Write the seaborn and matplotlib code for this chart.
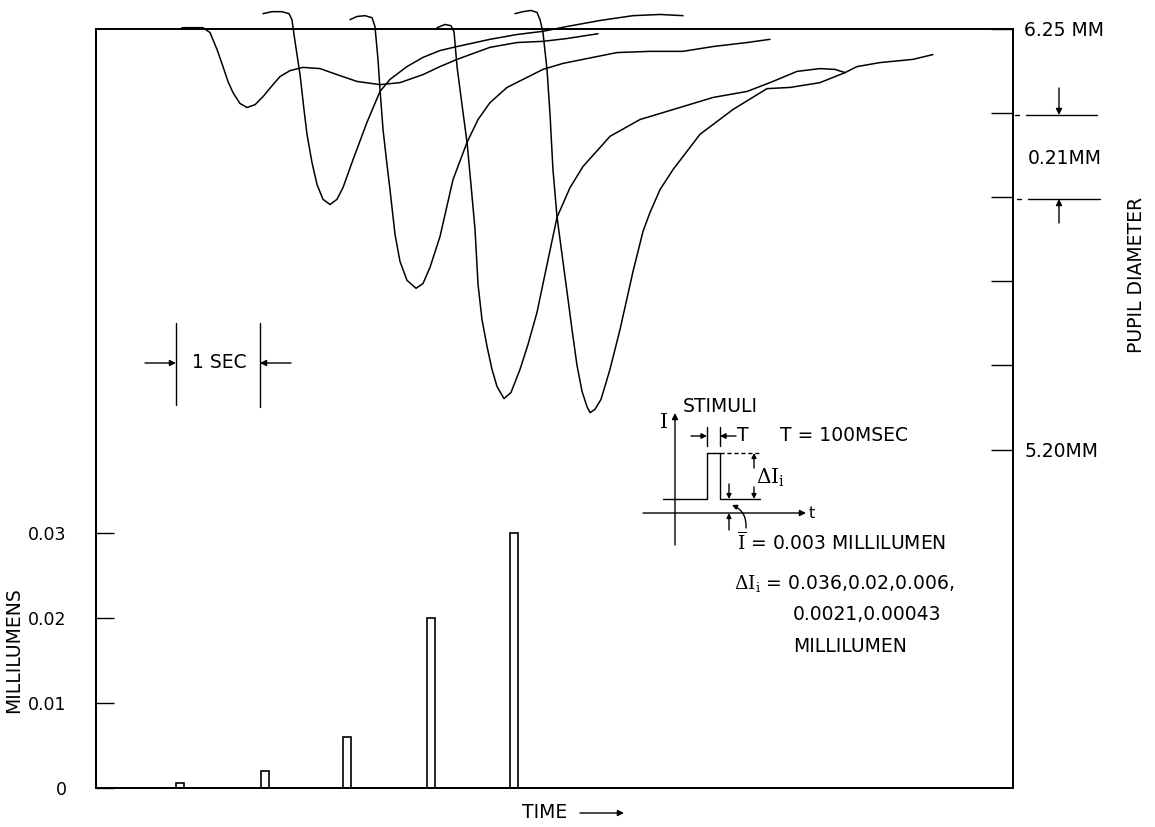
import numpy as np
import pandas as pd
import matplotlib
matplotlib.use("Agg")
import matplotlib.pyplot as plt
import seaborn as sns
from matplotlib.lines import Line2D
from matplotlib.patches import FancyArrowPatch

# ---------------- data ----------------
# stimulus increments (bars): time [s] and amplitude [millilumens]
stim_time = [1.00, 2.01, 2.99, 3.99, 4.98]
stim_amp = [0.0006, 0.002, 0.006, 0.020, 0.030]

# pupil responses: time [s], pupil diameter [mm]
resp_a_t = [1.024, 1.274, 1.357, 1.440, 1.512, 1.571, 1.631, 1.714, 1.798, 1.893, 1.988,
            2.095, 2.190, 2.310, 2.464, 2.667, 2.869, 3.107, 3.381, 3.619, 3.893, 4.095,
            4.298, 4.690, 5.012, 5.321, 5.607, 5.976]
resp_a_d = [6.252, 6.252, 6.240, 6.198, 6.155, 6.118, 6.090, 6.063, 6.053, 6.060, 6.080,
            6.107, 6.130, 6.145, 6.153, 6.150, 6.135, 6.118, 6.110, 6.115, 6.135, 6.155,
            6.173, 6.203, 6.215, 6.218, 6.225, 6.237]

resp_b_t = [1.988, 2.095, 2.214, 2.298, 2.333, 2.357, 2.393, 2.429, 2.476, 2.512, 2.571,
            2.631, 2.702, 2.786, 2.869, 2.940, 3.060, 3.226, 3.381, 3.500, 3.702, 3.893,
            4.095, 4.298, 4.690, 5.012, 5.321, 5.607, 6.000, 6.393, 6.714, 6.988]
resp_b_d = [6.287, 6.292, 6.292, 6.287, 6.272, 6.235, 6.185, 6.135, 6.048, 5.986, 5.916,
            5.861, 5.824, 5.811, 5.824, 5.853, 5.923, 6.016, 6.093, 6.123, 6.155, 6.178,
            6.195, 6.205, 6.223, 6.235, 6.243, 6.255, 6.270, 6.282, 6.285, 6.282]

resp_c_t = [3.024, 3.107, 3.202, 3.286, 3.321, 3.357, 3.381, 3.417, 3.464, 3.500, 3.560,
            3.619, 3.702, 3.810, 3.893, 3.976, 4.095, 4.250, 4.417, 4.548, 4.690, 4.893,
            5.083, 5.321, 5.560, 5.798, 6.202, 6.595, 6.988, 7.345, 7.750, 8.024]
resp_c_d = [6.272, 6.280, 6.282, 6.277, 6.255, 6.173, 6.098, 5.998, 5.911, 5.848, 5.736,
            5.669, 5.622, 5.602, 5.614, 5.654, 5.731, 5.873, 5.966, 6.023, 6.065, 6.103,
            6.123, 6.148, 6.163, 6.173, 6.190, 6.193, 6.193, 6.205, 6.215, 6.223]

resp_d_t = [4.060, 4.155, 4.226, 4.262, 4.298, 4.357, 4.417, 4.464, 4.512, 4.548, 4.595,
            4.655, 4.714, 4.774, 4.857, 4.940, 5.048, 5.143, 5.250, 5.369, 5.488, 5.643,
            5.798, 6.119, 6.476, 6.952, 7.345, 7.750, 8.024, 8.345, 8.619, 8.798, 8.917]
resp_d_d = [6.252, 6.260, 6.257, 6.242, 6.155, 6.060, 5.966, 5.861, 5.749, 5.612, 5.524,
            5.457, 5.400, 5.357, 5.327, 5.342, 5.400, 5.462, 5.542, 5.661, 5.779, 5.853,
            5.906, 5.981, 6.023, 6.053, 6.078, 6.093, 6.115, 6.143, 6.150, 6.148, 6.140]

resp_e_t = [4.988, 5.083, 5.179, 5.250, 5.286, 5.321, 5.369, 5.405, 5.440, 5.488, 5.548,
            5.607, 5.667, 5.726, 5.786, 5.845, 5.881, 5.940, 6.012, 6.119, 6.238, 6.393,
            6.512, 6.595, 6.714, 6.869, 7.190, 7.583, 7.988, 8.262, 8.619, 8.917, 9.060,
            9.333, 9.726, 9.964]
resp_e_d = [6.287, 6.292, 6.295, 6.290, 6.272, 6.240, 6.148, 6.036, 5.898, 5.781, 5.686,
            5.594, 5.499, 5.410, 5.345, 5.307, 5.292, 5.300, 5.325, 5.400, 5.499, 5.644,
            5.744, 5.791, 5.848, 5.898, 5.986, 6.048, 6.100, 6.103, 6.115, 6.140, 6.155,
            6.165, 6.173, 6.185]

left_ticks = [0.0, 0.01, 0.02, 0.03]
left_labels = ["0", "0.01", "0.02", "0.03"]
right_ticks = [6.25, 6.04, 5.83, 5.62, 5.41, 5.20]
right_labels = ["6.25 MM", "", "", "", "", "5.20MM"]

# ---------------- style ----------------
sns.set_style("white")
plt.rcParams["font.family"] = ["DejaVu Sans"]
plt.rcParams["mathtext.fontset"] = "dejavuserif"
for key in ("text.color", "axes.labelcolor", "xtick.color", "ytick.color", "axes.edgecolor"):
    plt.rcParams[key] = "black"
FS = 13.5

W, H = 1155, 827
fig = plt.figure(figsize=(W / 100, H / 100), dpi=100)
x0, x1, y0, y1 = 96, 1013, 28.5, 788
ax = fig.add_axes([x0 / W, 1 - y1 / H, (x1 - x0) / W, (y1 - y0) / H])
ax2 = ax.twinx()


def P(x, y):
    return (x / W, 1 - y / H)


# bars (stimulus amplitudes)
sns.barplot(x=stim_time, y=stim_amp, native_scale=True, width=0.1, fill=False,
            color="black", linewidth=1.2, errorbar=None, ax=ax)

# pupil traces
frames = []
for name, tt, dd in [("a", resp_a_t, resp_a_d), ("b", resp_b_t, resp_b_d),
                     ("c", resp_c_t, resp_c_d), ("d", resp_d_t, resp_d_d),
                     ("e", resp_e_t, resp_e_d)]:
    frames.append(pd.DataFrame({"t": tt, "d": dd, "curve": name}))
df = pd.concat(frames, ignore_index=True)
sns.lineplot(data=df, x="t", y="d", units="curve", estimator=None, sort=False,
             color="black", linewidth=1.1, ax=ax2, legend=False)
for ln in ax2.lines:
    ln.set_clip_on(False)

# scales
xmax = (x1 - x0) / 84.0
ax.set_xlim(0, xmax)
ax.set_ylim(0, (y1 - y0) / 85.0 * 0.01)
ax2.set_ylim(6.25 - (y1 - y0) / 84.2 * 0.21, 6.25)

ax.set_xticks([])
ax.set_xlabel("")
ax.set_ylabel("")
ax2.set_xlabel("")
ax2.set_ylabel("")
ax.set_yticks(left_ticks)
ax.set_yticklabels(left_labels, fontsize=12.5)
ax.tick_params(axis="y", direction="in", length=13, width=1.0, pad=21,
               left=True, right=False, colors="black")
ax2.set_yticks(right_ticks)
ax2.set_yticklabels(right_labels, fontsize=FS)
ax2.tick_params(axis="y", direction="in", length=16, width=1.0, pad=8,
                right=True, left=False, colors="black")
ax2.tick_params(axis="x", bottom=False, top=False)
for a in (ax, ax2):
    for s in a.spines.values():
        s.set_visible(True)
        s.set_color("black")
        s.set_linewidth(1.3)
    a.grid(False)

# axis titles
fig.text(*P(14, 650), "MILLILUMENS", rotation=90, ha="center", va="center", fontsize=13.5)
fig.text(*P(1137, 275), "PUPIL DIAMETER", rotation=90, ha="center", va="center", fontsize=FS)
fig.text(*P(522, 813), "TIME", ha="left", va="center", fontsize=FS)

LW = 1.0


def line(xs, ys, **kw):
    pts = [P(x, y) for x, y in zip(xs, ys)]
    fig.add_artist(Line2D([p[0] for p in pts], [p[1] for p in pts],
                          transform=fig.transFigure, color="black",
                          lw=kw.pop("lw", LW), **kw))


def arrow(a, b, rad=0.0, ms=9):
    fig.add_artist(FancyArrowPatch(P(*a), P(*b), transform=fig.transFigure,
                                   arrowstyle="-|>", mutation_scale=ms, color="black",
                                   lw=LW, shrinkA=0, shrinkB=0,
                                   connectionstyle=f"arc3,rad={rad}"))


arrow((580, 813), (624, 813))

# 1 SEC marker
line([176, 176], [323, 405])
line([260, 260], [323, 407])
arrow((145, 363), (176, 363))
arrow((291, 363), (260, 363))
fig.text(*P(219, 363), "1 SEC", ha="center", va="center", fontsize=FS)

# 0.21 MM marker
line([1015, 1019], [115, 115])
line([1026, 1097], [115, 115])
line([1017, 1021], [199, 199])
line([1028, 1100], [199, 199])
arrow((1059, 88), (1059, 115))
arrow((1059, 223), (1059, 199))
fig.text(*P(1028, 158), "0.21MM", ha="left", va="center", fontsize=FS)

# stimulus inset
arrow((675, 545), (675, 413))
arrow((643, 513), (806, 513))
fig.text(*P(809, 513), "t", ha="left", va="center", fontsize=FS - 2)
fig.text(*P(663, 423), r"$\mathrm{I}$", ha="center", va="center", fontsize=FS + 1)
fig.text(*P(683, 407), "STIMULI", ha="left", va="center", fontsize=FS)
line([663, 707, 707, 720, 720, 760], [499, 499, 453, 453, 499, 499])
line([720, 760], [453, 453], ls=(0, (3, 2)))
line([707, 707], [427, 446])
line([720, 720], [427, 446])
arrow((691, 436), (707, 436), ms=8)
arrow((736, 436), (720, 436), ms=8)
fig.text(*P(743, 436), "T", ha="center", va="center", fontsize=FS)
fig.text(*P(780, 436), "T = 100MSEC", ha="left", va="center", fontsize=FS)
arrow((754, 468), (754, 453), ms=7)
arrow((754, 487), (754, 499), ms=7)
fig.text(*P(756, 478), r"$\Delta\mathrm{I}_{\mathrm{i}}$", ha="left", va="center", fontsize=FS + 1)
arrow((729, 484), (729, 499), ms=7)
arrow((729, 530), (729, 513), ms=7)
arrow((746, 528), (732, 505), rad=0.35, ms=7)
fig.text(*P(737, 543), r"$\overline{\mathrm{I}}$ = 0.003 MILLILUMEN", ha="left", va="center", fontsize=FS)
fig.text(*P(734, 583), r"$\Delta\mathrm{I}_{\mathrm{i}}$ = 0.036,0.02,0.006,", ha="left", va="center", fontsize=FS)
fig.text(*P(793, 615), "0.0021,0.00043", ha="left", va="center", fontsize=FS)
fig.text(*P(793, 647), "MILLILUMEN", ha="left", va="center", fontsize=FS)

fig.savefig("out.png", dpi=100)
